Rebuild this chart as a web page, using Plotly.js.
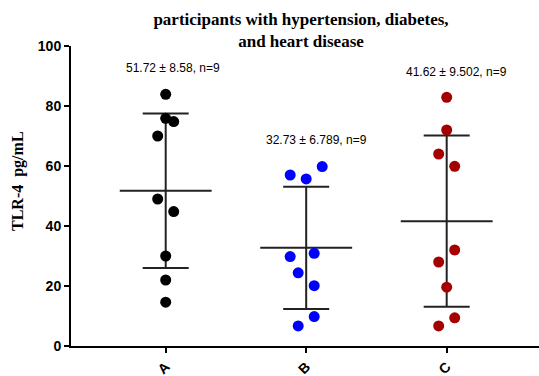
<!DOCTYPE html>
<html>
<head>
<meta charset="utf-8">
<script src="https://cdn.plot.ly/plotly-3.0.1.min.js"></script>
<style>html,body{margin:0;padding:0;background:#fff;}#chart{width:539px;height:376px;}</style>
</head>
<body>
<div id="chart"></div>
<script>
// ---- data ----
var groups = ['A', 'B', 'C'];
var valuesA = [83.9, 75.9, 74.8, 70.0, 49.0, 44.8, 30.0, 22.0, 14.6];
var valuesB = [59.8, 57.0, 55.7, 30.9, 29.8, 24.4, 20.1, 9.8, 6.7];
var valuesC = [82.9, 72.0, 64.0, 59.9, 32.0, 28.0, 19.6, 9.4, 6.7];
var means = [51.72, 32.73, 41.62];
var sems = [8.58, 6.789, 9.502];
var semLabels = ['8.58', '6.789', '9.502'];
var counts = [9, 9, 9];
// scatter-dot column slots (dot offsets used by the plotting program)
var slotsA = [0, 0, 1, -1, -1, 1, 0, 0, 0];
var slotsB = [2, -2, 0, 1, -2, -1, 1, 1, -1];
var slotsC = [0, 0, -1, 1, 1, -1, 0, 1, -1];
var colors = ['#000000', '#0000FF', '#A50000'];

var allValues = [valuesA, valuesB, valuesC];
var allSlots = [slotsA, slotsB, slotsC];
var slotW = 0.057;
var meanHalf = 0.327;

var traces = [];
// mean lines
var mx = [], my = [];
for (var g = 0; g < groups.length; g++) {
  mx.push(g - meanHalf, g + meanHalf, null);
  my.push(means[g], means[g], null);
}
traces.push({x: mx, y: my, mode: 'lines', line: {color: '#222', width: 2}, hoverinfo: 'skip', showlegend: false});
// SD error bars (SD = SEM * sqrt(n))
var sds = sems.map(function (s, i) { return s * Math.sqrt(counts[i]); });
traces.push({
  x: groups.map(function (_, i) { return i; }), y: means, mode: 'markers',
  marker: {size: 1, color: 'rgba(0,0,0,0)'},
  error_y: {type: 'data', array: sds, visible: true, width: 23, thickness: 2, color: '#222'},
  hoverinfo: 'skip', showlegend: false
});
// points
for (var g2 = 0; g2 < groups.length; g2++) {
  traces.push({
    x: allValues[g2].map(function (v, i) { return g2 + allSlots[g2][i] * slotW; }),
    y: allValues[g2], mode: 'markers', type: 'scatter',
    marker: {size: 11, color: colors[g2]}, showlegend: false
  });
}

var labelX = [0.052, 1.076, 2.073];
var labelY = [92.7, 68.7, 91.3];
var annotations = groups.map(function (gname, i) {
  return {
    x: labelX[i], xref: 'x', y: labelY[i], yref: 'y',
    text: means[i].toFixed(2) + ' \u00b1 ' + semLabels[i] + ', n=' + counts[i],
    showarrow: false, xanchor: 'center', yanchor: 'middle',
    font: {family: 'Liberation Sans, Arial', size: 12, color: '#000'}
  };
});
annotations.push({
  x: (18 - 71) / 468, xref: 'paper', y: (346 - 181) / 300, yref: 'paper',
  text: '<b>TLR-4  pg/mL</b>', textangle: -90, showarrow: false,
  xanchor: 'center', yanchor: 'middle',
  font: {family: 'Liberation Serif, Times New Roman', size: 16, color: '#000'}
});

var layout = {
  width: 539, height: 376,
  margin: {l: 71, r: 0, t: 46, b: 30, pad: 0},
  paper_bgcolor: '#fff', plot_bgcolor: '#fff',
  title: {
    text: '<b>participants with hypertension, diabetes,<br>and heart disease</b>',
    font: {family: 'Liberation Serif, Times New Roman', size: 17, color: '#000'},
    x: 301 / 539, xref: 'container', xanchor: 'center',
    y: 1 - 25 / 376, yref: 'container', yanchor: 'top'
  },
  xaxis: {
    range: [-0.674, 2.657], tickmode: 'array', tickvals: [0, 1, 2], ticktext: groups,
    tickangle: -45, showgrid: false, zeroline: false, showline: true, linecolor: '#000', linewidth: 2,
    ticks: 'outside', ticklen: 5, tickwidth: 2, tickcolor: '#000', automargin: false,
    tickfont: {family: 'Liberation Sans, Arial', size: 14, color: '#000', weight: 'bold'}
  },
  yaxis: {
    range: [0, 100], tickvals: [0, 20, 40, 60, 80, 100], showgrid: false, zeroline: false,
    showline: true, linecolor: '#000', linewidth: 2,
    ticks: 'outside', ticklen: 5, tickwidth: 2, tickcolor: '#000', automargin: false,
    tickfont: {family: 'Liberation Sans, Arial', size: 14, color: '#000', weight: 'bold'}
  },
  annotations: annotations,
  showlegend: false
};
Plotly.newPlot('chart', traces, layout, {displayModeBar: false, staticPlot: true});
</script>
</body>
</html>
